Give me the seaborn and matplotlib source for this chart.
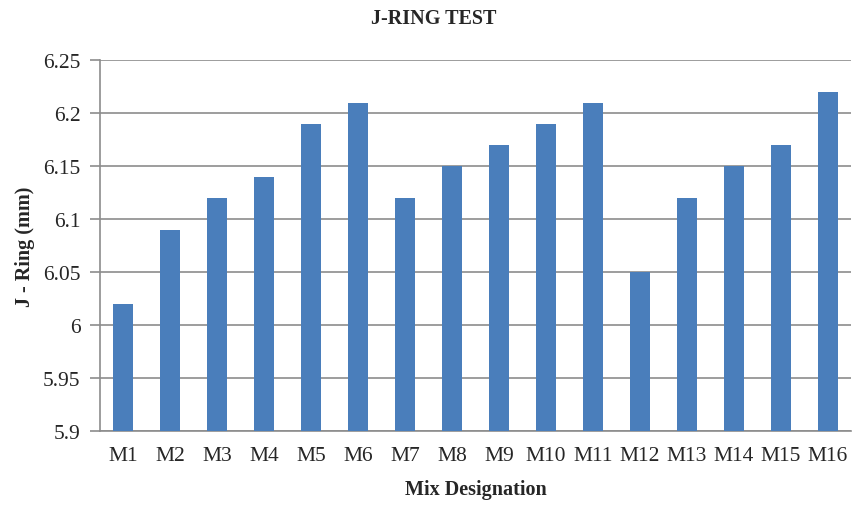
import pandas as pd
import matplotlib
matplotlib.use("Agg")
import matplotlib.pyplot as plt
import seaborn as sns

mixes = ["M1", "M2", "M3", "M4", "M5", "M6", "M7", "M8",
         "M9", "M10", "M11", "M12", "M13", "M14", "M15", "M16"]
j_ring = [6.02, 6.09, 6.12, 6.14, 6.19, 6.21, 6.12, 6.15,
          6.17, 6.19, 6.21, 6.05, 6.12, 6.15, 6.17, 6.22]
yticks = [5.9, 5.95, 6.0, 6.05, 6.1, 6.15, 6.2, 6.25]
ytick_labels = ["5.9", "5.95", "6", "6.05", "6.1", "6.15", "6.2", "6.25"]

df = pd.DataFrame({"mix": mixes, "jring": j_ring})

sns.set_style("white")
plt.rcParams["font.family"] = ["Liberation Serif", "DejaVu Serif"]

fig = plt.figure(figsize=(8.53, 5.06), dpi=100)
ax = fig.add_axes([0.117, 0.146, 0.881, 0.733])

sns.barplot(data=df, x="mix", y="jring", color="#4a7ebb", width=0.43,
            saturation=1, linewidth=0, ax=ax, zorder=3)

ax.set_ylim(5.9, 6.25)
ax.set_yticks(yticks)
ax.set_yticklabels(ytick_labels)
ax.yaxis.grid(True, color="#8c8c8c", linewidth=1.2, zorder=0)
ax.set_xlim(-0.5, len(mixes) - 0.5)

for side in ["top", "right"]:
    ax.spines[side].set_visible(False)
for side in ["left", "bottom"]:
    ax.spines[side].set_color("#8c8c8c")
    ax.spines[side].set_linewidth(1.2)

ax.tick_params(axis="y", left=True, length=7, width=1.2, color="#8c8c8c",
               labelsize=15.5, pad=7)
ax.tick_params(axis="x", bottom=False, labelsize=15.5, pad=7)

ax.set_xlabel("Mix Designation", fontsize=14.5, fontweight="bold", labelpad=10)
ax.set_ylabel("J - Ring (mm)", fontsize=14.5, fontweight="bold", labelpad=6)
fig.text(0.508, 0.962, "J-RING TEST", fontsize=14.5, fontweight="bold",
         ha="center", va="center")

fig.savefig("out.png", dpi=100)
